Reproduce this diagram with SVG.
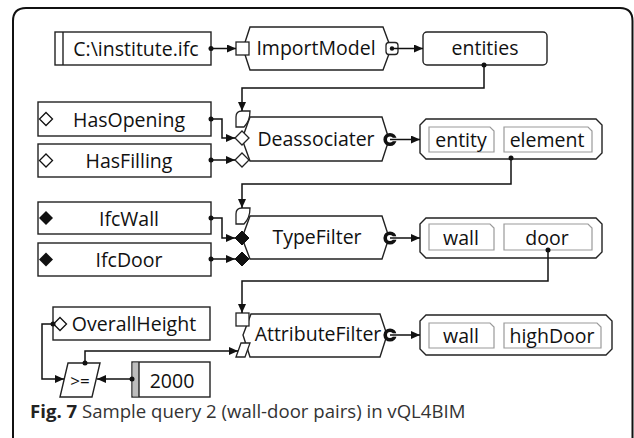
<svg xmlns="http://www.w3.org/2000/svg" width="634" height="438" viewBox="0 0 634 438">
  <defs>
    <marker id="arrow" viewBox="0 0 9 8" refX="9" refY="4" markerWidth="9" markerHeight="8" markerUnits="userSpaceOnUse" orient="auto">
      <path d="M0,0 L9,4 L0,8 z" fill="#111"/>
    </marker>
  </defs>
  <style>
    .box{fill:#fff;stroke:#222;stroke-width:1.4}
    .op{fill:#fff;stroke:#222;stroke-width:1.4}
    .port{fill:#fff;stroke:#222;stroke-width:1.3}
    .inner{fill:#fff;stroke:#9a9a9a;stroke-width:1.2}
    .lbl{font-family:"Open Sans","Noto Sans",sans-serif;font-size:19.5px;fill:#111;text-anchor:middle}
    .wire{fill:none;stroke:#111;stroke-width:1.5}
    .wire.arr{marker-end:url(#arrow)}
    .dot{fill:#111}
    .cport{fill:#fff;stroke:#111;stroke-width:3.6}
    .caption{font-family:"Open Sans","Noto Sans",sans-serif;font-size:18.6px;fill:#333}
  </style>
  <rect width="634" height="438" fill="#fff"/>

  <!-- frame -->
  <path d="M13,440 L13,21 Q13,8 26,8 L620,8 Q632.5,8 632.5,21 L632.5,440" fill="none" stroke="#111" stroke-width="2"/>

  <!-- row 1 -->
  <g id="file">
    <rect class="box" x="55" y="32" width="156" height="33"/>
    <line x1="63" y1="32" x2="63" y2="65" stroke="#222" stroke-width="1.4"/>
    <text class="lbl" x="136" y="56">C:\institute.ifc</text>
  </g>
  <g id="importModel">
    <polygon class="op" points="250,27 383,27 391,48.5 383,70 250,70 243,48.5"/>
    <rect class="port" x="236" y="42" width="13" height="13"/>
    <rect class="port" x="386" y="42.5" width="12" height="12" rx="3"/>
    <circle class="dot" cx="392" cy="48.5" r="2.2"/>
    <text class="lbl" x="316" y="55">ImportModel</text>
  </g>
  <g id="entities">
    <rect class="box" x="423" y="32" width="124" height="33" rx="4"/>
    <text class="lbl" x="485" y="55">entities</text>
  </g>

  <!-- row 2 -->
  <g id="hasOpening">
    <rect class="box" x="38" y="102" width="173" height="34"/>
    <polygon points="46,112.5 52.5,119 46,125.5 39.5,119" fill="#fff" stroke="#111" stroke-width="1.3"/>
    <text class="lbl" x="129" y="127">HasOpening</text>
  </g>
  <g id="hasFilling">
    <rect class="box" x="38" y="144" width="173" height="33"/>
    <polygon points="46,154 52.5,160.5 46,167 39.5,160.5" fill="#fff" stroke="#111" stroke-width="1.3"/>
    <text class="lbl" x="129" y="168">HasFilling</text>
  </g>
  <g id="deassociater">
    <polygon class="op" points="250,117 382,117 389,139.5 382,161 250,161 242,139"/>
    <path class="port" d="M236,127 L236,117 Q236,111 242,111 L250,111 Q250,121 244,127 Z"/>
    <polygon class="port" points="242,131 249,138 242,145 235,138"/>
    <polygon class="port" points="242,153 249,160 242,167 235,160"/>
    <circle class="cport" cx="390" cy="139.5" r="4.8"/>
    <rect x="390" y="137.8" width="7.5" height="3.4" fill="#fff"/>
    <text class="lbl" x="316" y="146">Deassociater</text>
  </g>
  <g id="pair1">
    <polygon class="op" points="426,119 596,119 602,125 602,153 596,159 426,159 420,153 420,125"/>
    <path class="inner" d="M429,127 L490,127 L494,131 L494,152 L429,152 Z"/>
    <path class="inner" d="M504,127 L588,127 L592,131 L592,152 L504,152 Z"/>
    <text class="lbl" x="461" y="147">entity</text>
    <text class="lbl" x="547" y="147">element</text>
  </g>

  <!-- row 3 -->
  <g id="ifcWall">
    <rect class="box" x="38" y="202" width="173" height="32"/>
    <polygon points="46,211 53,218 46,225 39,218" fill="#111"/>
    <text class="lbl" x="129" y="226">IfcWall</text>
  </g>
  <g id="ifcDoor">
    <rect class="box" x="38" y="243" width="173" height="33"/>
    <polygon points="46,252.5 53,259.5 46,266.5 39,259.5" fill="#111"/>
    <text class="lbl" x="129" y="267">IfcDoor</text>
  </g>
  <g id="typeFilter">
    <polygon class="op" points="250,216 382,216 389,237.5 382,259 250,259 242,238"/>
    <path class="port" d="M236,224 L236,214 Q236,208 242,208 L250,208 Q250,218 244,224 Z"/>
    <polygon points="242,231 249,238 242,245 235,238" fill="#111" stroke="#111" stroke-width="1"/>
    <polygon points="242,252 249,259 242,266 235,259" fill="#111" stroke="#111" stroke-width="1"/>
    <circle class="cport" cx="390" cy="238" r="4.8"/>
    <rect x="390" y="236.3" width="7.5" height="3.4" fill="#fff"/>
    <text class="lbl" x="317" y="244">TypeFilter</text>
  </g>
  <g id="pair2">
    <polygon class="op" points="426,218 596,218 602,224 602,252 596,258 426,258 420,252 420,224"/>
    <path class="inner" d="M429,224 L490,224 L494,228 L494,250 L429,250 Z"/>
    <path class="inner" d="M504,224 L588,224 L592,228 L592,250 L504,250 Z"/>
    <text class="lbl" x="461" y="245">wall</text>
    <text class="lbl" x="547" y="245">door</text>
  </g>

  <!-- row 4 -->
  <g id="overallHeight">
    <rect class="box" x="53" y="307" width="157" height="33"/>
    <polygon points="60,317.5 66.5,324 60,330.5 53.5,324" fill="#fff" stroke="#111" stroke-width="1.3"/>
    <text class="lbl" x="134" y="331">OverallHeight</text>
  </g>
  <g id="compare">
    <polygon class="op" points="68,363 100,363 92,397 60,397"/>
    <text class="lbl" x="80" y="387" style="font-size:17px">&gt;=</text>
  </g>
  <g id="const2000">
    <rect class="box" x="132" y="362" width="78" height="35"/>
    <rect x="132.7" y="362.7" width="6.3" height="33.6" fill="#bdbdbd"/>
    <line x1="139" y1="362" x2="139" y2="397" stroke="#222" stroke-width="1.4"/>
    <text class="lbl" x="172" y="388">2000</text>
  </g>
  <g id="attributeFilter">
    <polygon class="op" points="251,314 380,314 387,335 380,357 250,357 243,335"/>
    <rect class="port" x="236" y="313" width="13" height="13"/>
    <polygon class="port" points="236,357 241,343 250,343 245,357"/>
    <circle class="cport" cx="390" cy="335" r="4.8"/>
    <rect x="390" y="333.3" width="7.5" height="3.4" fill="#fff"/>
    <text class="lbl" x="318" y="341">AttributeFilter</text>
  </g>
  <g id="pair3">
    <polygon class="op" points="426,315 606,315 612,321 612,349 606,355 426,355 420,349 420,321"/>
    <path class="inner" d="M429,323 L490,323 L494,327 L494,348 L429,348 Z"/>
    <path class="inner" d="M504,323 L597,323 L601,327 L601,348 L504,348 Z"/>
    <text class="lbl" x="461" y="343">wall</text>
    <text class="lbl" x="552" y="343">highDoor</text>
  </g>

  <!-- connectors -->
  <g id="connectors">
    <path class="wire arr" d="M211,48.5 H236"/>
    <path class="wire arr" d="M392,48.5 H423"/>
    <path class="wire arr" d="M484,65 V88 H242 V111"/>
    <path class="wire arr" d="M211,119 H222 V138 H235"/>
    <path class="wire arr" d="M211,160 H235"/>
    <path class="wire arr" d="M390,139.5 H420"/>
    <path class="wire arr" d="M511,158 V184 H242 V208"/>
    <path class="wire arr" d="M211,218 H222 V238 H235"/>
    <path class="wire arr" d="M211,259 H235"/>
    <path class="wire arr" d="M390,238 H420"/>
    <path class="wire arr" d="M548,250 V281 H242 V313"/>
    <path class="wire arr" d="M53,324 H42 V379 H64"/>
    <path class="wire arr" d="M132,379 H97"/>
    <path class="wire arr" d="M85,363 V351 H238"/>
    <path class="wire arr" d="M390,335 H420"/>
    <circle class="dot" cx="211" cy="48.5" r="2.5"/>
    <circle class="dot" cx="484" cy="65" r="2.5"/>
    <circle class="dot" cx="211" cy="119" r="2.5"/>
    <circle class="dot" cx="211" cy="160" r="2.5"/>
    <circle class="dot" cx="511" cy="158" r="2.5"/>
    <circle class="dot" cx="211" cy="218" r="2.5"/>
    <circle class="dot" cx="211" cy="259" r="2.5"/>
    <circle class="dot" cx="548" cy="250" r="2.5"/>
    <circle class="dot" cx="53" cy="324" r="2.5"/>
    <circle class="dot" cx="132" cy="379" r="2.5"/>
    <circle class="dot" cx="85" cy="363" r="2.5"/>
  </g>

  <!-- caption -->
  <text class="caption" x="30" y="418"><tspan font-weight="bold" fill="#222">Fig. 7</tspan> Sample query 2 (wall-door pairs) in vQL4BIM</text>
</svg>
